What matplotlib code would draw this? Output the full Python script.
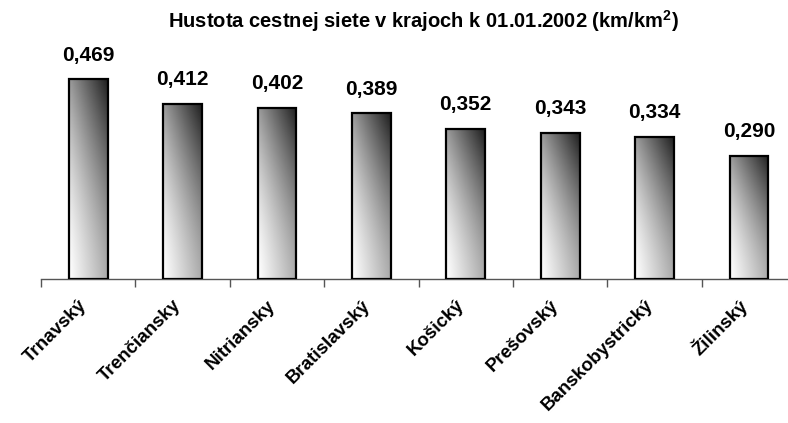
import matplotlib.pyplot as plt
import numpy as np
from matplotlib.patches import Rectangle
from matplotlib.transforms import ScaledTranslation

plt.rcParams['font.family'] = ['Liberation Sans', 'DejaVu Sans']
plt.rcParams['mathtext.fontset'] = 'custom'
plt.rcParams['mathtext.bf'] = 'Liberation Sans:bold'
plt.rcParams['mathtext.rm'] = 'Liberation Sans'

regions = ['Trnavský', 'Trenčiansky', 'Nitriansky', 'Bratislavský',
           'Košický', 'Prešovský', 'Banskobystrický', 'Žilinský']
density = [0.469, 0.412, 0.402, 0.389, 0.352, 0.343, 0.334, 0.290]
value_labels = ['0,469', '0,412', '0,402', '0,389', '0,352', '0,343', '0,334', '0,290']
title = 'Hustota cestnej siete v krajoch k 01.01.2002 (km/km$^{\\mathbf{2}}$)'

W, H = 788, 423
fig = plt.figure(figsize=(W / 100, H / 100), dpi=100)

# axes placed in pixels: x axis at y=279, category step ~94.4 px, 425 px per unit
step = 94.4
ax_left, ax_bottom = 41, H - 279
ppu = 425.5
ymax = 0.62
ax = fig.add_axes([ax_left / W, ax_bottom / H, 8 * step / W, ymax * ppu / H])

# diagonal gradient: light bottom-left, dark top-right
gx, gy = np.meshgrid(np.linspace(0, 1, 64), np.linspace(0, 1, 256))
shade = (255 - 85 * gx - 100 * gy ** 1.6 - 40 * gx * gy ** 1.3) / 255.0
shade = np.clip(shade, 0, 1)

bar_w = 0.41
for i, v in enumerate(density):
    x0 = i + 0.5 - bar_w / 2
    im = ax.imshow(shade, cmap='gray', vmin=0, vmax=1, origin='lower',
                   extent=[x0, x0 + bar_w, 0, v], aspect='auto', zorder=2,
                   interpolation='bilinear')
    rect = Rectangle((x0, 0), bar_w, v, facecolor='none', edgecolor='black',
                     linewidth=1.6, zorder=3)
    ax.add_patch(rect)
    im.set_clip_path(rect)
    ax.text(i + 0.5, v + 0.035, value_labels[i], ha='center', va='bottom',
            fontsize=15, fontweight='bold')

ax.set_xlim(0, 8)
ax.set_ylim(0, ymax)

for s in ['top', 'right', 'left']:
    ax.spines[s].set_visible(False)
ax.spines['bottom'].set_color('#555555')
ax.spines['bottom'].set_linewidth(1)
ax.set_yticks([])
ax.set_xticks(np.arange(0, 9))
ax.set_xticklabels([])
ax.tick_params(axis='x', direction='out', length=6, color='#555555', width=1)
ax.set_xticks(np.arange(8) + 0.5, minor=True)
ax.set_xticklabels(regions, minor=True, rotation=45, ha='right',
                   va='center', rotation_mode='anchor', fontsize=13.5,
                   fontweight='bold')
ax.tick_params(axis='x', which='minor', length=0, pad=17)
shift = ScaledTranslation(-4 / 100, 0, fig.dpi_scale_trans)
for lab in ax.get_xticklabels(minor=True):
    lab.set_transform(lab.get_transform() + shift)

fig.text(423 / W, 1 - 21 / H, title, ha='center', va='center',
         fontsize=14.5, fontweight='bold')

fig.savefig('out.png', dpi=100)
